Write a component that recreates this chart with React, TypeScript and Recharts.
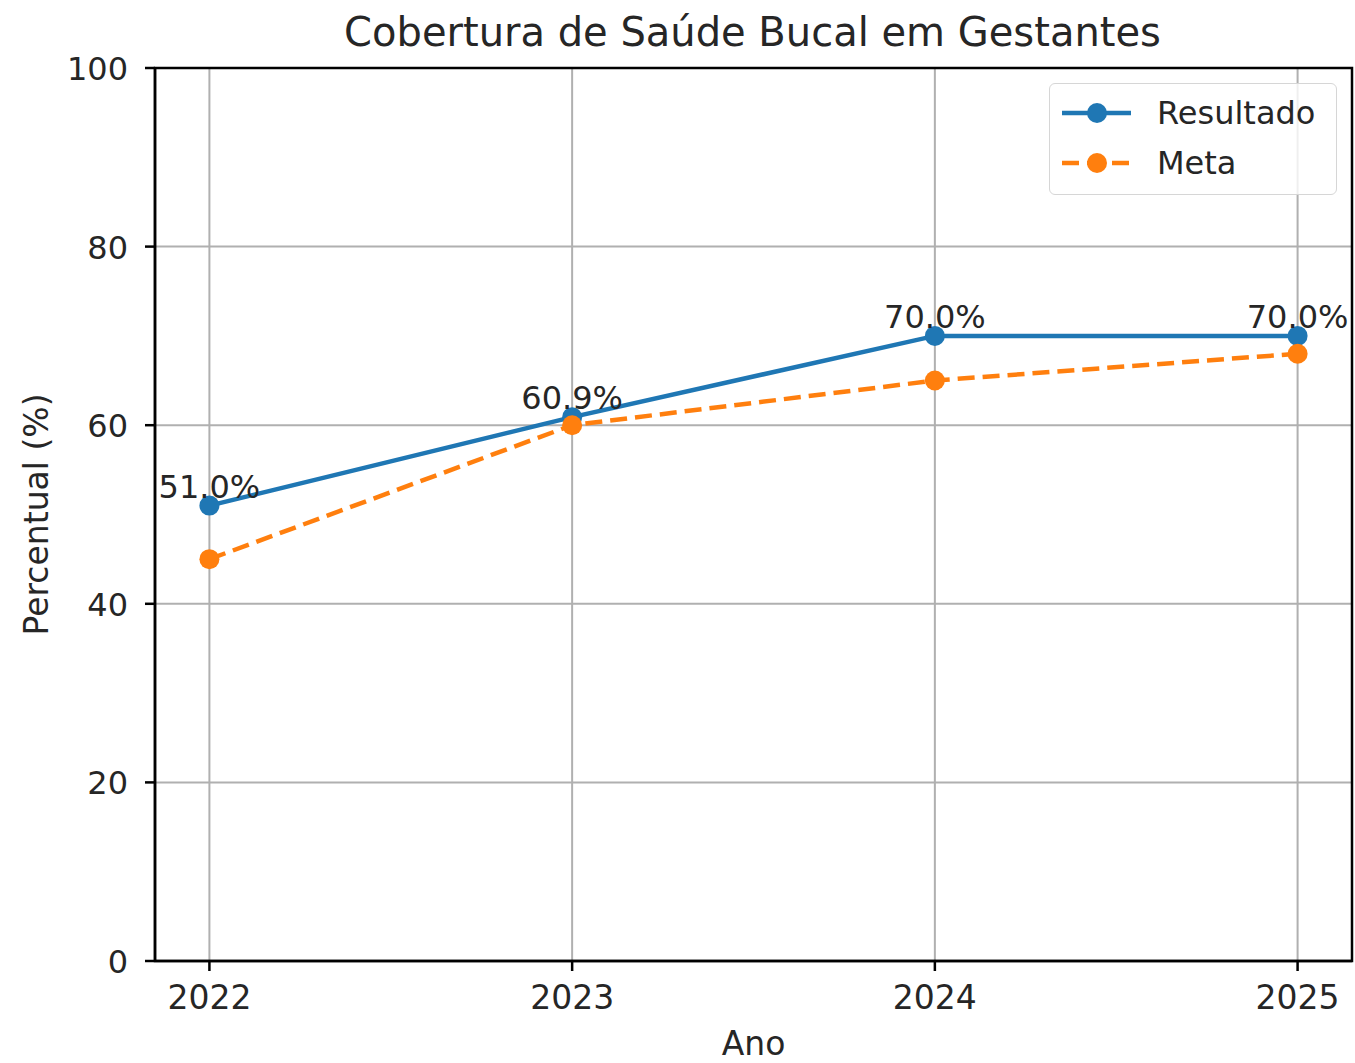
import React from 'react';
import { LineChart, Line, XAxis, YAxis, CartesianGrid, LabelList, Label, ReferenceArea } from 'recharts';

const anos = [2022, 2023, 2024, 2025];
const resultado = [51.0, 60.9, 70.0, 70.0];
const meta = [45, 60, 65, 68];
const yTicks = [0, 20, 40, 60, 80, 100];

const data = anos.map((ano, i) => ({ ano, resultado: resultado[i], meta: meta[i] }));

const FONT = '"DejaVu Sans", sans-serif';
const BLUE = '#1f77b4';
const ORANGE = '#ff7f0e';
const TEXT = '#262626';

const XTick = ({ x, y, payload }: any) => (
  <text x={x} y={y + 36} textAnchor="middle" fontSize={33} fill={TEXT} fontFamily={FONT}>
    {payload.value}
  </text>
);

const YTick = ({ x, y, payload }: any) => (
  <text x={x - 15} y={y + 12} textAnchor="end" fontSize={32} fill={TEXT} fontFamily={FONT}>
    {payload.value}
  </text>
);

const ValueLabel = ({ x, y, value }: any) => (
  <text x={x} y={y - 8} textAnchor="middle" fontSize={32} fill={TEXT} fontFamily={FONT}>
    {Number(value).toFixed(1)}%
  </text>
);

const LegendBox = () => (
  <div
    style={{
      position: 'absolute',
      left: 1049,
      top: 83,
      width: 288,
      height: 112,
      border: '1.5px solid #d6d6d6',
      borderRadius: 6,
      background: 'rgba(255,255,255,0.8)',
      fontFamily: FONT,
      fontSize: 32,
      color: TEXT,
      boxSizing: 'border-box',
    }}
  >
    <svg width={90} height={110} style={{ position: 'absolute', left: 0, top: 0 }}>
      <line x1={12} x2={81} y1={29} y2={29} stroke={BLUE} strokeWidth={4.5} />
      <circle cx={47} cy={29} r={10} fill={BLUE} />
      <line x1={12} x2={81} y1={79} y2={79} stroke={ORANGE} strokeWidth={4.5} strokeDasharray="17 8" />
      <circle cx={47} cy={79} r={10} fill={ORANGE} />
    </svg>
    <div style={{ position: 'absolute', left: 107, top: 9, lineHeight: '40px' }}>Resultado</div>
    <div style={{ position: 'absolute', left: 107, top: 59, lineHeight: '40px' }}>Meta</div>
  </div>
);

export default function App() {
  return (
    <div style={{ position: 'absolute', left: 0, top: 0, width: 1355, height: 1063, background: '#fff' }}>
      <div
        style={{
          position: 'absolute',
          left: 0,
          width: 1505,
          top: 9,
          textAlign: 'center',
          fontFamily: FONT,
          fontSize: 40,
          color: TEXT,
          lineHeight: '46px',
        }}
      >
        Cobertura de Saúde Bucal em Gestantes
      </div>
      <LineChart
        width={1355}
        height={1063}
        data={data}
        margin={{ top: 68, right: 3, bottom: 0, left: 0 }}
      >
        <CartesianGrid stroke="#b0b0b0" strokeWidth={2} verticalValues={anos} horizontalValues={yTicks} />
        <XAxis
          dataKey="ano"
          type="number"
          domain={[2021.85, 2025.15]}
          ticks={anos}
          allowDataOverflow
          height={102}
          stroke="#000"
          strokeWidth={2.5}
          tickSize={10}
          tick={<XTick />}
        >
          <Label
            content={({ viewBox }: any) => (
              <text
                x={viewBox.x + viewBox.width / 2}
                y={1055}
                textAnchor="middle"
                fontSize={33}
                fill={TEXT}
                fontFamily={FONT}
              >
                Ano
              </text>
            )}
          />
        </XAxis>
        <YAxis
          type="number"
          domain={[0, 100]}
          ticks={yTicks}
          width={155}
          stroke="#000"
          strokeWidth={2.5}
          tickSize={10}
          tick={<YTick />}
        >
          <Label
            content={({ viewBox }: any) => {
              const cx = 36;
              const cy = viewBox.y + viewBox.height / 2;
              return (
                <text
                  x={cx}
                  y={cy}
                  transform={`rotate(-90, ${cx}, ${cy})`}
                  textAnchor="middle"
                  dominantBaseline="central"
                  fontSize={33}
                  fill={TEXT}
                  fontFamily={FONT}
                >
                  Percentual (%)
                </text>
              );
            }}
          />
        </YAxis>
        <ReferenceArea x1={2021.85} x2={2025.15} y1={0} y2={100} fill="none" stroke="#000" strokeWidth={2.5} ifOverflow="extendDomain" />
        <Line
          dataKey="resultado"
          name="Resultado"
          stroke={BLUE}
          strokeWidth={4.5}
          dot={{ r: 10, fill: BLUE, stroke: BLUE, strokeWidth: 0 }}
          activeDot={false}
          isAnimationActive={false}
        >
          <LabelList dataKey="resultado" content={<ValueLabel />} />
        </Line>
        <Line
          dataKey="meta"
          name="Meta"
          stroke={ORANGE}
          strokeWidth={4.5}
          strokeDasharray="17 8"
          dot={{ r: 10, fill: ORANGE, stroke: ORANGE, strokeWidth: 0, strokeDasharray: '' }}
          activeDot={false}
          isAnimationActive={false}
        />
      </LineChart>
      <LegendBox />
    </div>
  );
}
